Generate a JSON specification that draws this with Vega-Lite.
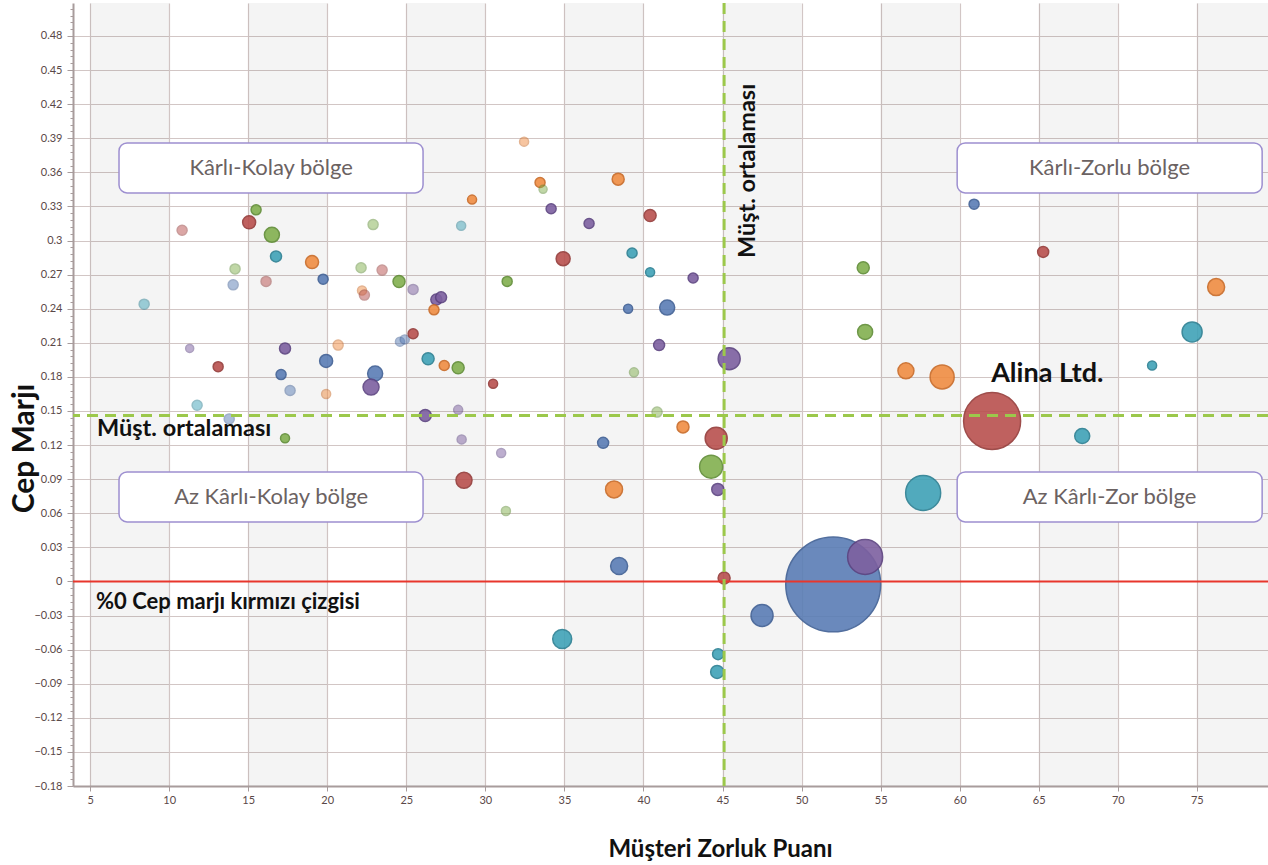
{
  "$schema": "https://vega.github.io/schema/vega-lite/v6.json",
  "width": 1195,
  "height": 783,
  "autosize": {"type": "none"},
  "padding": {"left": 73, "top": 3, "right": 0, "bottom": 79},
  "background": "white",
  "config": {"view": {"stroke": null}, "font": "Lato"},
  "datasets": {
    "bantlar": [
      {"bas": 5, "son": 10}, {"bas": 15, "son": 20}, {"bas": 25, "son": 30}, {"bas": 35, "son": 40},
      {"bas": 45, "son": 50}, {"bas": 55, "son": 60}, {"bas": 65, "son": 70}, {"bas": 75, "son": 80}
    ],
    "musteriler": [
      {"zorluk": 8.42, "marj": 0.244, "hacim": 1.0, "seri": "D", "durum": "pasif"},
      {"zorluk": 10.82, "marj": 0.309, "hacim": 1.0, "seri": "B", "durum": "pasif"},
      {"zorluk": 11.3, "marj": 0.205, "hacim": 0.64, "seri": "E", "durum": "pasif"},
      {"zorluk": 13.1, "marj": 0.189, "hacim": 1.0, "seri": "B", "durum": "aktif"},
      {"zorluk": 11.77, "marj": 0.155, "hacim": 1.0, "seri": "D", "durum": "pasif"},
      {"zorluk": 13.8, "marj": 0.143, "hacim": 1.0, "seri": "A", "durum": "pasif"},
      {"zorluk": 14.17, "marj": 0.275, "hacim": 1.0, "seri": "C", "durum": "pasif"},
      {"zorluk": 14.05, "marj": 0.261, "hacim": 1.0, "seri": "A", "durum": "pasif"},
      {"zorluk": 15.06, "marj": 0.316, "hacim": 1.69, "seri": "B", "durum": "aktif"},
      {"zorluk": 15.5, "marj": 0.327, "hacim": 1.0, "seri": "C", "durum": "aktif"},
      {"zorluk": 16.5, "marj": 0.305, "hacim": 2.25, "seri": "C", "durum": "aktif"},
      {"zorluk": 16.76, "marj": 0.286, "hacim": 1.21, "seri": "D", "durum": "aktif"},
      {"zorluk": 16.13, "marj": 0.264, "hacim": 1.0, "seri": "B", "durum": "pasif"},
      {"zorluk": 17.33, "marj": 0.205, "hacim": 1.21, "seri": "E", "durum": "aktif"},
      {"zorluk": 17.08, "marj": 0.182, "hacim": 1.0, "seri": "A", "durum": "aktif"},
      {"zorluk": 17.65, "marj": 0.168, "hacim": 1.0, "seri": "A", "durum": "pasif"},
      {"zorluk": 17.33, "marj": 0.126, "hacim": 0.81, "seri": "C", "durum": "aktif"},
      {"zorluk": 19.04, "marj": 0.281, "hacim": 1.69, "seri": "F", "durum": "aktif"},
      {"zorluk": 19.74, "marj": 0.266, "hacim": 1.0, "seri": "A", "durum": "aktif"},
      {"zorluk": 19.93, "marj": 0.194, "hacim": 1.69, "seri": "A", "durum": "aktif"},
      {"zorluk": 19.93, "marj": 0.165, "hacim": 0.81, "seri": "F", "durum": "pasif"},
      {"zorluk": 20.69, "marj": 0.208, "hacim": 1.0, "seri": "F", "durum": "pasif"},
      {"zorluk": 22.14, "marj": 0.276, "hacim": 1.0, "seri": "C", "durum": "pasif"},
      {"zorluk": 22.9, "marj": 0.314, "hacim": 1.0, "seri": "C", "durum": "pasif"},
      {"zorluk": 22.2, "marj": 0.256, "hacim": 0.81, "seri": "F", "durum": "pasif"},
      {"zorluk": 22.35, "marj": 0.252, "hacim": 1.0, "seri": "B", "durum": "pasif"},
      {"zorluk": 23.47, "marj": 0.274, "hacim": 1.0, "seri": "B", "durum": "pasif"},
      {"zorluk": 23.03, "marj": 0.183, "hacim": 2.25, "seri": "A", "durum": "aktif"},
      {"zorluk": 22.77, "marj": 0.171, "hacim": 2.56, "seri": "E", "durum": "aktif"},
      {"zorluk": 24.54, "marj": 0.264, "hacim": 1.44, "seri": "C", "durum": "aktif"},
      {"zorluk": 25.43, "marj": 0.257, "hacim": 1.0, "seri": "E", "durum": "pasif"},
      {"zorluk": 24.6, "marj": 0.211, "hacim": 0.81, "seri": "A", "durum": "pasif"},
      {"zorluk": 24.9, "marj": 0.213, "hacim": 0.81, "seri": "A", "durum": "pasif"},
      {"zorluk": 25.43, "marj": 0.218, "hacim": 1.0, "seri": "B", "durum": "aktif"},
      {"zorluk": 26.38, "marj": 0.196, "hacim": 1.44, "seri": "D", "durum": "aktif"},
      {"zorluk": 26.9, "marj": 0.248, "hacim": 1.21, "seri": "E", "durum": "aktif"},
      {"zorluk": 27.2, "marj": 0.25, "hacim": 1.21, "seri": "E", "durum": "aktif"},
      {"zorluk": 26.75, "marj": 0.239, "hacim": 1.0, "seri": "F", "durum": "aktif"},
      {"zorluk": 27.4, "marj": 0.19, "hacim": 1.0, "seri": "F", "durum": "aktif"},
      {"zorluk": 28.28, "marj": 0.188, "hacim": 1.44, "seri": "C", "durum": "aktif"},
      {"zorluk": 26.2, "marj": 0.146, "hacim": 1.44, "seri": "E", "durum": "aktif"},
      {"zorluk": 28.28, "marj": 0.151, "hacim": 0.81, "seri": "E", "durum": "pasif"},
      {"zorluk": 28.5, "marj": 0.125, "hacim": 0.81, "seri": "E", "durum": "pasif"},
      {"zorluk": 28.65, "marj": 0.089, "hacim": 2.56, "seri": "B", "durum": "aktif"},
      {"zorluk": 28.47, "marj": 0.313, "hacim": 0.81, "seri": "D", "durum": "pasif"},
      {"zorluk": 29.16, "marj": 0.336, "hacim": 0.81, "seri": "F", "durum": "aktif"},
      {"zorluk": 30.49, "marj": 0.174, "hacim": 0.81, "seri": "B", "durum": "aktif"},
      {"zorluk": 31.0, "marj": 0.113, "hacim": 0.81, "seri": "E", "durum": "pasif"},
      {"zorluk": 31.38, "marj": 0.264, "hacim": 1.0, "seri": "C", "durum": "aktif"},
      {"zorluk": 31.3, "marj": 0.062, "hacim": 0.81, "seri": "C", "durum": "pasif"},
      {"zorluk": 32.45, "marj": 0.387, "hacim": 0.81, "seri": "F", "durum": "pasif"},
      {"zorluk": 33.46, "marj": 0.351, "hacim": 1.0, "seri": "F", "durum": "aktif"},
      {"zorluk": 33.65, "marj": 0.345, "hacim": 0.64, "seri": "C", "durum": "pasif"},
      {"zorluk": 34.16, "marj": 0.328, "hacim": 1.0, "seri": "E", "durum": "aktif"},
      {"zorluk": 34.92, "marj": 0.284, "hacim": 1.96, "seri": "B", "durum": "aktif"},
      {"zorluk": 36.56, "marj": 0.315, "hacim": 1.0, "seri": "E", "durum": "aktif"},
      {"zorluk": 38.4, "marj": 0.354, "hacim": 1.44, "seri": "F", "durum": "aktif"},
      {"zorluk": 39.28, "marj": 0.289, "hacim": 1.0, "seri": "D", "durum": "aktif"},
      {"zorluk": 40.42, "marj": 0.322, "hacim": 1.44, "seri": "B", "durum": "aktif"},
      {"zorluk": 40.42, "marj": 0.272, "hacim": 0.81, "seri": "D", "durum": "aktif"},
      {"zorluk": 43.14, "marj": 0.267, "hacim": 1.0, "seri": "E", "durum": "aktif"},
      {"zorluk": 39.03, "marj": 0.24, "hacim": 0.81, "seri": "A", "durum": "aktif"},
      {"zorluk": 41.5, "marj": 0.241, "hacim": 2.25, "seri": "A", "durum": "aktif"},
      {"zorluk": 40.99, "marj": 0.208, "hacim": 1.21, "seri": "E", "durum": "aktif"},
      {"zorluk": 39.4, "marj": 0.184, "hacim": 0.81, "seri": "C", "durum": "pasif"},
      {"zorluk": 45.42, "marj": 0.196, "hacim": 4.84, "seri": "E", "durum": "aktif"},
      {"zorluk": 40.86, "marj": 0.149, "hacim": 1.0, "seri": "C", "durum": "pasif"},
      {"zorluk": 42.5, "marj": 0.136, "hacim": 1.44, "seri": "F", "durum": "aktif"},
      {"zorluk": 37.45, "marj": 0.122, "hacim": 1.21, "seri": "A", "durum": "aktif"},
      {"zorluk": 44.6, "marj": 0.126, "hacim": 4.84, "seri": "B", "durum": "aktif"},
      {"zorluk": 44.28, "marj": 0.101, "hacim": 5.29, "seri": "C", "durum": "aktif"},
      {"zorluk": 44.7, "marj": 0.081, "hacim": 1.44, "seri": "E", "durum": "aktif"},
      {"zorluk": 38.14, "marj": 0.081, "hacim": 2.89, "seri": "F", "durum": "aktif"},
      {"zorluk": 38.46, "marj": 0.0136, "hacim": 2.89, "seri": "A", "durum": "aktif"},
      {"zorluk": 45.1, "marj": 0.003, "hacim": 1.44, "seri": "B", "durum": "aktif"},
      {"zorluk": 34.86, "marj": -0.0506, "hacim": 3.61, "seri": "D", "durum": "aktif"},
      {"zorluk": 44.72, "marj": -0.064, "hacim": 1.21, "seri": "D", "durum": "aktif"},
      {"zorluk": 44.66, "marj": -0.0796, "hacim": 1.69, "seri": "D", "durum": "aktif"},
      {"zorluk": 47.5, "marj": -0.03, "hacim": 4.84, "seri": "A", "durum": "aktif"},
      {"zorluk": 52.0, "marj": -0.0026, "hacim": 90.0, "seri": "A", "durum": "aktif"},
      {"zorluk": 54.02, "marj": 0.0216, "hacim": 12.25, "seri": "E", "durum": "aktif"},
      {"zorluk": 53.9, "marj": 0.276, "hacim": 1.44, "seri": "C", "durum": "aktif"},
      {"zorluk": 54.02, "marj": 0.2196, "hacim": 2.25, "seri": "C", "durum": "aktif"},
      {"zorluk": 56.6, "marj": 0.1853, "hacim": 2.56, "seri": "F", "durum": "aktif"},
      {"zorluk": 58.89, "marj": 0.18, "hacim": 5.76, "seri": "F", "durum": "aktif"},
      {"zorluk": 60.91, "marj": 0.332, "hacim": 1.0, "seri": "A", "durum": "aktif"},
      {"zorluk": 65.28, "marj": 0.29, "hacim": 1.21, "seri": "B", "durum": "aktif"},
      {"zorluk": 76.22, "marj": 0.259, "hacim": 2.89, "seri": "F", "durum": "aktif"},
      {"zorluk": 74.7, "marj": 0.2196, "hacim": 4.0, "seri": "D", "durum": "aktif"},
      {"zorluk": 72.17, "marj": 0.19, "hacim": 0.81, "seri": "D", "durum": "aktif"},
      {"zorluk": 62.05, "marj": 0.1412, "hacim": 32.5, "seri": "B", "durum": "aktif"},
      {"zorluk": 67.75, "marj": 0.128, "hacim": 2.25, "seri": "D", "durum": "aktif"},
      {"zorluk": 57.69, "marj": 0.0779, "hacim": 12.25, "seri": "D", "durum": "aktif"},
      {"zorluk": 23.5, "marj": 0.057, "hacim": 0.81, "seri": "B", "durum": "aktif"}
    ],
    "ortalama": [{"zorluk": 45.1, "marj": 0.146}],
    "sifir": [{"marj": 0}],
    "bolgeler": [
      {"ad": "Kârlı-Kolay bölge", "x1": 6.83, "x2": 26.06, "y1": 0.3419, "y2": 0.3859, "xm": 16.45, "ym": 0.3639},
      {"ad": "Kârlı-Zorlu bölge", "x1": 59.84, "x2": 79.13, "y1": 0.3419, "y2": 0.3859, "xm": 69.48, "ym": 0.3639},
      {"ad": "Az Kârlı-Kolay bölge", "x1": 6.83, "x2": 26.06, "y1": 0.0524, "y2": 0.0964, "xm": 16.45, "ym": 0.0744},
      {"ad": "Az Kârlı-Zor bölge", "x1": 59.84, "x2": 79.13, "y1": 0.0524, "y2": 0.0964, "xm": 69.48, "ym": 0.0744}
    ]
  },
  "resolve": {"scale": {"x": "shared", "y": "shared"}},
  "layer": [
    {
      "data": {"name": "bantlar"},
      "mark": {"type": "rect", "color": "#000000", "opacity": 0.045, "clip": true},
      "encoding": {
        "x": {
          "field": "bas", "type": "quantitative",
          "scale": {"domain": [3.92, 79.5], "nice": false, "zero": false},
          "axis": {
            "title": "Müşteri Zorluk Puanı",
            "titleFont": "Lato", "titleFontSize": 24, "titleFontWeight": "bold", "titleColor": "#111111",
            "titleX": 647, "titleY": 70, "titleBaseline": "alphabetic",
            "values": [5, 10, 15, 20, 25, 30, 35, 40, 45, 50, 55, 60, 65, 70, 75],
            "tickCount": 100,
            "labelFontSize": 11, "labelColor": "#5a4848", "labelPadding": 3, "labelFlush": false,
            "tickSize": 5, "tickColor": "#a89c9c", "domainColor": "#a89c9c", "domainWidth": 2,
            "grid": true, "gridColor": "#d2c6c5", "gridWidth": 1.2
          }
        },
        "x2": {"field": "son"},
        "y": {"datum": -0.18, "type": "quantitative",
          "scale": {"domain": [-0.18, 0.509], "nice": false, "zero": false},
          "axis": {
            "title": "Cep Marjı",
            "titleFont": "Lato", "titleFontSize": 30, "titleFontWeight": "bold", "titleColor": "#111111",
            "titleAngle": -90, "titleX": -40, "titleY": 445, "titleBaseline": "alphabetic", "titleAlign": "center",
            "values": [-0.18, -0.174, -0.168, -0.162, -0.156, -0.15, -0.144, -0.138, -0.132, -0.126, -0.12, -0.114, -0.108, -0.102, -0.096, -0.09, -0.084, -0.078, -0.072, -0.066, -0.06, -0.054, -0.048, -0.042, -0.036, -0.03, -0.024, -0.018, -0.012, -0.006, 0, 0.006, 0.012, 0.018, 0.024, 0.03, 0.036, 0.042, 0.048, 0.054, 0.06, 0.066, 0.072, 0.078, 0.084, 0.09, 0.096, 0.102, 0.108, 0.114, 0.12, 0.126, 0.132, 0.138, 0.144, 0.15, 0.156, 0.162, 0.168, 0.174, 0.18, 0.186, 0.192, 0.198, 0.204, 0.21, 0.216, 0.222, 0.228, 0.234, 0.24, 0.246, 0.252, 0.258, 0.264, 0.27, 0.276, 0.282, 0.288, 0.294, 0.3, 0.306, 0.312, 0.318, 0.324, 0.33, 0.336, 0.342, 0.348, 0.354, 0.36, 0.366, 0.372, 0.378, 0.384, 0.39, 0.396, 0.402, 0.408, 0.414, 0.42, 0.426, 0.432, 0.438, 0.444, 0.45, 0.456, 0.462, 0.468, 0.474, 0.48, 0.486, 0.492, 0.498, 0.504],
            "tickCount": 300,
            "labelExpr": "abs(datum.value/0.03 - round(datum.value/0.03)) < 0.001 ? format(datum.value, '.2~f') : ''",
            "labelOverlap": false, "labelFlush": false, "labelBound": false,
            "labelFontSize": 11, "labelColor": "#5a4848", "labelPadding": 5,
            "tickSize": {"condition": {"test": "abs(datum.value/0.03 - round(datum.value/0.03)) < 0.001", "value": 6}, "value": 3},
            "tickColor": "#a89c9c", "domainColor": "#a89c9c", "domainWidth": 2,
            "grid": true, "gridColor": "#d2c6c5", "gridWidth": 1.2,
            "gridOpacity": {"condition": {"test": "abs(datum.value/0.03 - round(datum.value/0.03)) < 0.001", "value": 1}, "value": 0}
          }
        },
        "y2": {"datum": 0.509}
      }
    },
    {
      "data": {"name": "musteriler"},
      "mark": {"type": "circle", "strokeWidth": 1.5},
      "encoding": {
        "x": {"field": "zorluk", "type": "quantitative"},
        "y": {"field": "marj", "type": "quantitative"},
        "size": {"field": "hacim", "type": "quantitative", "scale": {"type": "linear", "domain": [0, 100], "range": [0, 10000], "zero": true}, "legend": null},
        "color": {"field": "seri", "type": "nominal", "scale": {"domain": ["A", "B", "C", "D", "E", "F"], "range": ["#5a7db5", "#b9504e", "#82b04f", "#40a3b8", "#7d60a0", "#f08d43"]}, "legend": null},
        "stroke": {"field": "seri", "type": "nominal", "scale": {"domain": ["A", "B", "C", "D", "E", "F"], "range": ["#3f5f94", "#943a38", "#5f8c35", "#2a7f92", "#5c4380", "#c96a26"]}, "legend": null},
        "opacity": {"field": "durum", "type": "nominal", "scale": {"domain": ["aktif", "pasif"], "range": [0.9, 0.5]}, "legend": null}
      }
    },
    {
      "data": {"name": "sifir"},
      "mark": {"type": "rule", "color": "#e8362c", "strokeWidth": 2},
      "encoding": {"y": {"field": "marj", "type": "quantitative"}}
    },
    {
      "data": {"name": "ortalama"},
      "mark": {"type": "rule", "color": "#9cc84b", "strokeWidth": 3, "strokeDash": [11, 7]},
      "encoding": {"y": {"field": "marj", "type": "quantitative"}}
    },
    {
      "data": {"name": "ortalama"},
      "mark": {"type": "rule", "color": "#9cc84b", "strokeWidth": 3, "strokeDash": [11, 7]},
      "encoding": {"x": {"field": "zorluk", "type": "quantitative"}}
    },
    {
      "data": {"name": "bolgeler"},
      "mark": {"type": "rect", "fill": "white", "stroke": "#9d8fd0", "strokeWidth": 1.5, "cornerRadius": 8},
      "encoding": {
        "x": {"field": "x1", "type": "quantitative"},
        "x2": {"field": "x2"},
        "y": {"field": "y1", "type": "quantitative"},
        "y2": {"field": "y2"}
      }
    },
    {
      "data": {"name": "bolgeler"},
      "mark": {"type": "text", "font": "Lato", "fontSize": 22, "color": "#6b6262", "align": "center", "baseline": "middle"},
      "encoding": {
        "x": {"field": "xm", "type": "quantitative"},
        "y": {"field": "ym", "type": "quantitative"},
        "text": {"field": "ad"}
      }
    },
    {
      "data": {"values": [
        {"metin": "Müşt. ortalaması", "zorluk": 5.44, "marj": 0.128, "boy": "buyuk"},
        {"metin": "%0 Cep marjı kırmızı çizgisi", "zorluk": 5.38, "marj": -0.0242, "boy": "normal"}
      ]},
      "mark": {"type": "text", "font": "Lato", "fontWeight": "bold", "color": "#111111", "align": "left", "baseline": "alphabetic"},
      "encoding": {
        "x": {"field": "zorluk", "type": "quantitative"},
        "y": {"field": "marj", "type": "quantitative"},
        "text": {"field": "metin"},
        "size": {"field": "boy", "type": "nominal", "scale": {"domain": ["buyuk", "normal"], "range": [23.5, 22]}, "legend": null}
      }
    },
    {
      "data": {"values": [{"metin": "Müşt. ortalaması", "zorluk": 46.62, "marj": 0.3612}]},
      "mark": {"type": "text", "font": "Lato", "fontSize": 23.5, "fontWeight": "bold", "color": "#111111", "align": "center", "baseline": "middle", "angle": 270},
      "encoding": {
        "x": {"field": "zorluk", "type": "quantitative"},
        "y": {"field": "marj", "type": "quantitative"},
        "text": {"field": "metin"}
      }
    },
    {
      "data": {"values": [{"metin": "Alina Ltd.", "zorluk": 61.99, "marj": 0.1756}]},
      "mark": {"type": "text", "font": "Lato", "fontSize": 27, "fontWeight": "bold", "color": "#111111", "align": "left", "baseline": "alphabetic"},
      "encoding": {
        "x": {"field": "zorluk", "type": "quantitative"},
        "y": {"field": "marj", "type": "quantitative"},
        "text": {"field": "metin"}
      }
    }
  ]
}
